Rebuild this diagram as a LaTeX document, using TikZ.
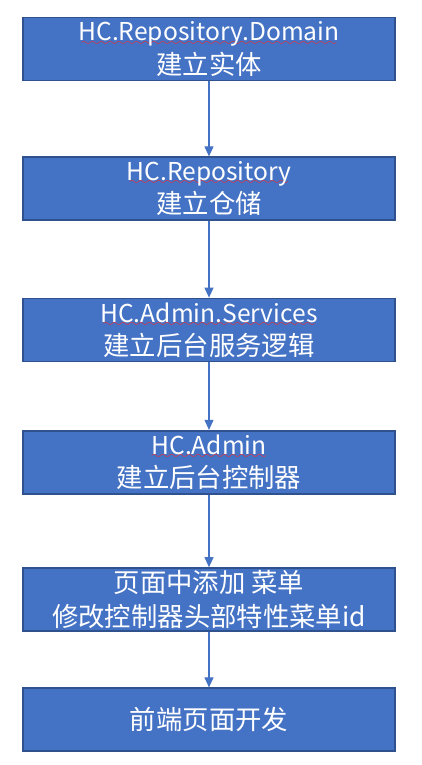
\documentclass[tikz,border=0pt]{standalone}
\usepackage{fontspec}
\setmainfont{Noto Sans CJK SC}
\usepackage{tikz}
\usetikzlibrary{arrows.meta, positioning}
\usepackage{xcolor}
\definecolor{boxBlue}{RGB}{68, 114, 196}
\definecolor{edgeBlue}{RGB}{47, 82, 143}
% red spell-check wave under the project names
\font\wavefont=lasy6
\newcommand{\latinline}[1]{\setbox0\hbox{\fontsize{14}{18}\selectfont #1}%
    \rlap{\textcolor{red!85!white}{\lower2.5pt\hbox to\wd0{\wavefont\cleaders\hbox{\char58}\hfil}}}\box0}

\begin{document}
\begin{tikzpicture}[
        font=\fontsize{15}{19}\selectfont,
        stepbox/.style={rectangle, draw=edgeBlue, fill=boxBlue, line width=1pt, text=white, minimum width=7.44cm, minimum height=1.26cm, align=center, inner sep=0pt},
        arrow/.style={-{Triangle[length=2mm, width=1.8mm]}, boxBlue, line width=0.6pt}
    ]
        \useasboundingbox (0,0) rectangle (8.42,-15.3);
        \node[stepbox] (domain) at (4.18,-0.98) {\latinline{HC.Repository.Domain}\\建立实体};
        \node[stepbox, below=1.50cm of domain] (repo) {\latinline{HC.Repository}\\建立仓储};
        \node[stepbox, below=1.53cm of repo] (services) {\latinline{HC.Admin.Services}\\建立后台服务逻辑};
        \node[stepbox, below=1.35cm of services] (admin) {\latinline{HC.Admin}\\建立后台控制器};
        \node[stepbox, below=1.45cm of admin] (menu) {页面中添加 菜单\\修改控制器头部特性菜单id};
        \node[stepbox, below=1.11cm of menu] (front) {前端页面开发};
        \draw[arrow] (domain) -- (repo);
        \draw[arrow] (repo) -- (services);
        \draw[arrow] (services) -- (admin);
        \draw[arrow] (admin) -- (menu);
        \draw[arrow] (menu) -- (front);
    \end{tikzpicture}
\end{document}
